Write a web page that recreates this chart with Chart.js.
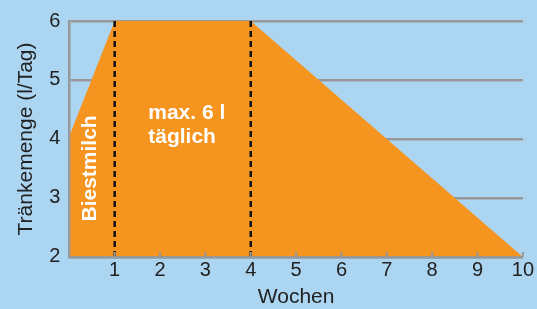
<!DOCTYPE html>
<html>
<head>
<meta charset="utf-8">
<script src="https://cdn.jsdelivr.net/npm/chart.js@4/dist/chart.umd.min.js"></script>
<style>
  html, body { margin: 0; padding: 0; background: #acd5f1; }
  #wrap { width: 537px; height: 309px; position: relative; }
</style>
</head>
<body>
<div id="wrap"><canvas id="chart"></canvas></div>
<script>
// Tränkeplan: Wochen vs. Liter pro Tag
const weeks = [0, 1, 4, 10];
const volume = [4.05, 6, 6, 2];
const markerWeeks = [1, 4];
const xTicks = [1, 2, 3, 4, 5, 6, 7, 8, 9, 10];
const yTicks = [2, 3, 4, 5, 6];

const gray = '#989898';
const orange = '#f5941f';
const font = "'Liberation Sans', Arial, sans-serif";

// small tick marks inside the plot, sitting on the x axis
const innerTicks = {
  id: 'innerTicks',
  afterDatasetsDraw(chart) {
    const { ctx, scales: { x, y } } = chart;
    ctx.save();
    ctx.strokeStyle = gray;
    ctx.lineWidth = 2;
    xTicks.forEach(v => {
      const px = x.getPixelForValue(v);
      ctx.beginPath();
      ctx.moveTo(px, y.bottom);
      ctx.lineTo(px, y.bottom - 5);
      ctx.stroke();
    });
    ctx.restore();
  }
};

// white labels inside the orange area
const labels = {
  id: 'labels',
  afterDraw(chart) {
    const { ctx, scales: { x, y } } = chart;
    ctx.save();
    ctx.fillStyle = '#fff';
    ctx.font = `bold 21px ${font}`;
    ctx.textBaseline = 'middle';
    ctx.textAlign = 'left';
    ctx.fillText('max. 6 l', x.getPixelForValue(1.74), y.getPixelForValue(4.43));
    ctx.fillText('täglich', x.getPixelForValue(1.74), y.getPixelForValue(4.03));
    ctx.translate(x.getPixelForValue(0.46), y.getPixelForValue(3.5));
    ctx.rotate(-Math.PI / 2);
    ctx.textAlign = 'center';
    ctx.fillText('Biestmilch', 0, 0);
    ctx.restore();
  }
};

const markerSets = markerWeeks.map(w => ({
  data: [{ x: w, y: yTicks[0] }, { x: w, y: yTicks[yTicks.length - 1] }],
  borderColor: '#111',
  borderWidth: 2.5,
  borderDash: [6, 4],
  pointRadius: 0,
  fill: false,
  clip: false,
  order: 0
}));

new Chart(document.getElementById('chart'), {
  type: 'line',
  data: {
    datasets: [{
      data: weeks.map((w, i) => ({ x: w, y: volume[i] })),
      backgroundColor: orange,
      borderWidth: 0,
      pointRadius: 0,
      tension: 0,
      fill: 'start',
      order: 1
    }, ...markerSets]
  },
  options: {
    responsive: true,
    maintainAspectRatio: false,
    animation: false,
    layout: { padding: { top: 5, right: 14, bottom: 0, left: 14 } },
    plugins: { legend: { display: false }, tooltip: { enabled: false } },
    scales: {
      x: {
        type: 'linear',
        min: 0, max: 10,
        afterBuildTicks: s => { s.ticks = xTicks.map(v => ({ value: v })); },
        grid: { drawOnChartArea: false, drawTicks: false },
        border: { color: gray, width: 2.5, z: 1 },
        ticks: { color: '#222', padding: 3, font: { family: font, size: 20, lineHeight: 1.1 }, autoSkip: false, maxRotation: 0 },
        title: { display: true, text: 'Wochen', color: '#222', padding: { top: 1, bottom: 0 }, font: { family: font, size: 21, lineHeight: 1.1 } }
      },
      y: {
        min: 2, max: 6,
        afterBuildTicks: s => { s.ticks = yTicks.map(v => ({ value: v })); },
        grid: { color: gray, lineWidth: 2.5, drawTicks: false },
        border: { color: gray, width: 2.5, z: 1 },
        ticks: { color: '#222', padding: 9, font: { family: font, size: 20 } },
        title: { display: true, text: 'Tränkemenge (l/Tag)', color: '#222', padding: { top: 0, bottom: 1 }, font: { family: font, size: 21, lineHeight: 1.2 } }
      }
    }
  },
  plugins: [innerTicks, labels]
});
</script>
</body>
</html>
